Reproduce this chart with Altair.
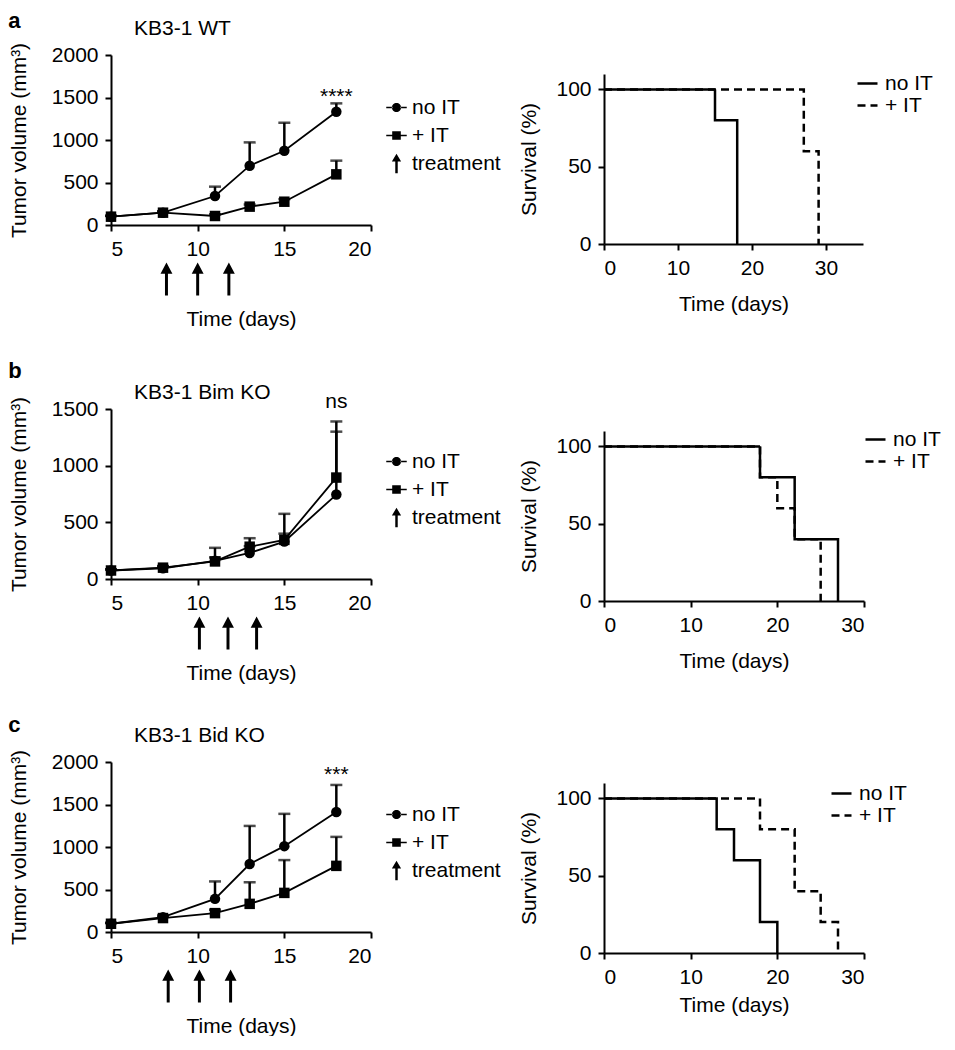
import altair as alt
import pandas as pd

FONT = "Liberation Sans"
FS = 21      # titles / legend labels
FL = 21      # tick labels

# ---------------- data ----------------
days = [5, 8, 11, 13, 15, 18]
series_names = ["no IT", "+ IT"]

# Panel a: KB3-1 WT (mean, upper SD)
a_noit_mean = [98, 145, 341, 698, 874, 1333]
a_noit_sd = [10, 15, 110, 274, 329, 98]
a_it_mean = [98, 145, 106, 216, 274, 596]
a_it_sd = [10, 15, 20, 25, 30, 161]
a_treat = [8.2, 10.0, 11.8]

# Panel b: KB3-1 Bim KO
b_noit_mean = [75, 95, 160, 230, 330, 745]
b_noit_sd = [10, 15, 30, 60, 70, 555]
b_it_mean = [75, 100, 155, 285, 345, 895]
b_it_sd = [10, 15, 120, 75, 230, 495]
b_treat = [10.1, 11.75, 13.4]

# Panel c: KB3-1 Bid KO
c_noit_mean = [97, 175, 390, 800, 1010, 1412]
c_noit_sd = [10, 20, 205, 448, 380, 318]
c_it_mean = [97, 164, 222, 331, 460, 778]
c_it_sd = [10, 15, 40, 254, 386, 341]
c_treat = [8.3, 10.1, 11.9]

# significance labels
sig_labels = ["****", "ns", "***"]
sig_day = [18, 18, 18]
sig_y = [1510, 1560, 1848]

# Survival curves (time, % surviving) per panel
a_surv_noit_t = [0, 15, 18]
a_surv_noit_s = [100, 80, 0]
a_surv_it_t = [0, 27, 29]
a_surv_it_s = [100, 60, 0]

b_surv_noit_t = [0, 18, 22, 27]
b_surv_noit_s = [100, 80, 40, 0]
b_surv_it_t = [0, 18, 20, 22, 25]
b_surv_it_s = [100, 80, 60, 40, 0]

c_surv_noit_t = [0, 13, 15, 18, 20]
c_surv_noit_s = [100, 80, 60, 20, 0]
c_surv_it_t = [0, 18, 22, 25, 27]
c_surv_it_s = [100, 80, 40, 20, 0]

legend_keys = ["no IT", "+ IT", "treatment"]

# ---------------- shapes ----------------
LEG_CIRCLE = ("M-1,-0.08H-0.4V0.08H-1Z M0.4,-0.08H1V0.08H0.4Z "
              "M-0.45,0A0.45,0.45 0 1,0 0.45,0A0.45,0.45 0 1,0 -0.45,0Z")
LEG_SQUARE = ("M-1,-0.08H-0.4V0.08H-1Z M0.4,-0.08H1V0.08H0.4Z "
              "M-0.42,-0.42H0.42V0.42H-0.42Z")
LEG_ARROW = "M0,-0.95L-0.45,-0.2L-0.12,-0.2L-0.12,0.95L0.12,0.95L0.12,-0.2L0.45,-0.2Z"
ARROW = "M0,-1L-0.36,-0.32L-0.09,-0.32L-0.09,1L0.09,1L0.09,-0.32L0.36,-0.32Z"

W, H = 260, 170


def tumor_df(nm, ns, im, isd):
    rows = []
    for d, m, s in zip(days, nm, ns):
        rows.append({"day": d, "mean": m, "top": m + s, "series": "no IT"})
    for d, m, s in zip(days, im, isd):
        rows.append({"day": d, "mean": m, "top": m + s, "series": "+ IT"})
    return pd.DataFrame(rows)


def tumor_chart(title, toff, nm, ns, im, isd, treat, ymax, yvals, sig, sday, sy):
    df = tumor_df(nm, ns, im, isd)
    xs = alt.Scale(domain=[5, 20], nice=False)
    ys = alt.Scale(domain=[0, ymax], nice=False)
    x = alt.X("day:Q", scale=xs,
              axis=alt.Axis(values=[5, 10, 15, 20], title="Time (days)", titlePadding=49))
    y = alt.Y("mean:Q", scale=ys,
              axis=alt.Axis(values=yvals, format="d", title="Tumor volume (mm³)", titlePadding=22))
    base = alt.Chart(df)
    err = base.mark_rule(color="black", strokeWidth=2.5).encode(x=x, y=y, y2="top:Q")
    cap = base.mark_tick(color="black", orient="horizontal", size=12, thickness=2.5).encode(
        x="day:Q", y="top:Q")
    line = base.mark_line(color="black", strokeWidth=1.8).encode(x="day:Q", y="mean:Q", detail="series:N")
    pts = base.mark_point(filled=True, color="black", opacity=1, size=110).encode(
        x="day:Q", y="mean:Q",
        shape=alt.Shape("series:N", scale=alt.Scale(domain=series_names, range=["circle", "square"]),
                        legend=None))
    tdf = pd.DataFrame({"day": treat})
    arrows = alt.Chart(tdf).mark_point(shape=ARROW, filled=True, color="black", opacity=1,
                                       size=1089, strokeWidth=0).encode(
        x="day:Q", y=alt.value(H + 54))
    sdf = pd.DataFrame({"day": [sday], "y": [sy], "label": [sig]})
    sigt = alt.Chart(sdf).mark_text(font=FONT, fontSize=FS, color="black", baseline="middle").encode(
        x="day:Q", y="y:Q", text="label:N")
    ldf = pd.DataFrame({"key": legend_keys})
    legdef = alt.Legend(title=None, orient="none", legendX=275, legendY=42,
                        symbolOpacity=1, symbolFillColor="black", symbolSize=420,
                        symbolStrokeColor="black", symbolStrokeWidth=0,
                        labelFont=FONT, labelFontSize=FS, labelColor="black",
                        rowPadding=6, labelOffset=5)
    leg = alt.Chart(ldf).mark_point(filled=True, color="black", size=0).encode(
        shape=alt.Shape("key:N", scale=alt.Scale(domain=legend_keys, range=[LEG_CIRCLE, LEG_SQUARE, LEG_ARROW]),
                        legend=legdef))
    ch = alt.layer(err, cap, line, pts, arrows, sigt, leg).resolve_scale(shape="independent")
    return ch.properties(
        width=W, height=H,
        title=alt.TitleParams(title, anchor="start", frame="group", dx=23, font=FONT, fontSize=FS,
                              fontWeight="normal", color="black", offset=toff))


def surv_chart(nt, ns, it, isv, xmax, xvals, drop, legx, legy, tpad):
    rows = [{"t": t, "s": s, "series": "no IT"} for t, s in zip(nt, ns)]
    rows += [{"t": t, "s": s, "series": "+ IT"} for t, s in zip(it, isv)]
    df = pd.DataFrame(rows)
    w = 259 if xmax == 35 else 260
    h = H + drop
    ch = alt.Chart(df).mark_line(interpolate="step-after", color="black", strokeWidth=2.5).encode(
        x=alt.X("t:Q", scale=alt.Scale(domain=[0, xmax], nice=False),
                axis=alt.Axis(values=xvals, title="Time (days)", titlePadding=tpad)),
        y=alt.Y("s:Q", scale=alt.Scale(domain=[0, 110], nice=False, range=[h, drop]),
                axis=alt.Axis(values=[0, 50, 100], title="Survival (%)", titlePadding=16)),
        strokeDash=alt.StrokeDash("series:N",
                                  scale=alt.Scale(domain=series_names, range=[[1, 0], [8, 5]]),
                                  legend=alt.Legend(title=None, orient="none", legendX=legx, legendY=legy,
                                                    symbolType="stroke", symbolSize=400,
                                                    symbolStrokeWidth=2.5, symbolStrokeColor="black",
                                                    labelFont=FONT, labelFontSize=FS, labelColor="black",
                                                    rowPadding=0, labelOffset=6)),
        detail="series:N")
    return ch.properties(width=w, height=h)


def row(letter, loff, tum, sur):
    return alt.concat(tum, sur, columns=2, spacing=17).properties(
        title=alt.TitleParams(letter, anchor="start", font=FONT, fontSize=22, fontWeight="bold",
                              color="black", offset=loff)
    ).resolve_scale(shape="independent", size="independent", strokeDash="independent")


ra = row("a", -15,
         tumor_chart("KB3-1 WT", 3, a_noit_mean, a_noit_sd, a_it_mean, a_it_sd, a_treat, 2000,
                     [0, 500, 1000, 1500, 2000], sig_labels[0], sig_day[0], sig_y[0]),
         surv_chart(a_surv_noit_t, a_surv_noit_s, a_surv_it_t, a_surv_it_s, 35, [0, 10, 20, 30],
                    19, 252, 17, 15))
rb = row("b", -1,
         tumor_chart("KB3-1 Bim KO", -12, b_noit_mean, b_noit_sd, b_it_mean, b_it_sd, b_treat, 1500,
                     [0, 500, 1000, 1500], sig_labels[1], sig_day[1], sig_y[1]),
         surv_chart(b_surv_noit_t, b_surv_noit_s, b_surv_it_t, b_surv_it_s, 30, [0, 10, 20, 30],
                    22, 260, 19, 15))
rc = row("c", -12,
         tumor_chart("KB3-1 Bid KO", 3, c_noit_mean, c_noit_sd, c_it_mean, c_it_sd, c_treat, 2000,
                     [0, 500, 1000, 1500, 2000], sig_labels[2], sig_day[2], sig_y[2]),
         surv_chart(c_surv_noit_t, c_surv_noit_s, c_surv_it_t, c_surv_it_s, 30, [0, 10, 20, 30],
                    21, 226, 20, 7))

chart = alt.vconcat(ra, rb, rc, spacing=31).resolve_scale(
    shape="independent", size="independent", strokeDash="independent"
).configure(background="white", padding={"top": 2, "left": 0, "right": 0, "bottom": 0}
).configure_view(stroke=None).configure_axis(
    domainColor="black", domainWidth=2, tickColor="black", tickWidth=2, tickSize=6,
    labelFont=FONT, labelFontSize=FL, labelColor="black", labelPadding=7,
    titleFont=FONT, titleFontSize=FS, titleFontWeight="normal", titleColor="black", grid=False
)

chart.save("out.html", embed_options={"renderer": "svg", "actions": False})
